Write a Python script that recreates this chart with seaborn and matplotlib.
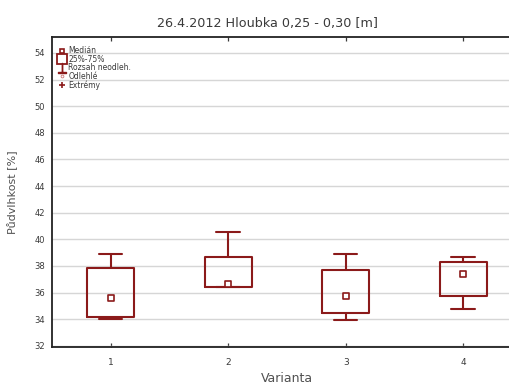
import matplotlib
matplotlib.use("Agg")
import matplotlib.pyplot as plt
from matplotlib.lines import Line2D
import seaborn as sns
import pandas as pd

# ---- data ----
variants = ["1", "2", "3", "4"]
whisker_low = [33.98, 36.4, 33.93, 34.79]
q1 = [34.16, 36.4, 34.49, 35.78]
median = [35.6, 36.68, 35.78, 37.36]
q3 = [37.86, 38.65, 37.7, 38.3]
whisker_high = [38.93, 40.55, 38.93, 38.65]

title = "26.4.2012 Hloubka 0,25 - 0,30 [m]"
xlabel = "Varianta"
ylabel = "Půdvlhkost [%]"
yticks = list(range(32, 56, 2))
legend_labels = ["Medián", "25%-75%", "Rozsah neodleh.", "Odlehlé", "Extrémy"]

# five-number sets per variant -> long table
rows = []
for i, v in enumerate(variants):
    for val in (whisker_low[i], q1[i], median[i], q3[i], whisker_high[i]):
        rows.append({"Varianta": v, "val": val})
df = pd.DataFrame(rows)
med_df = pd.DataFrame({"Varianta": variants, "val": median})

sns.set_theme(style="white")
plt.rcParams["font.family"] = ["DejaVu Sans"]

RED = "#8b1a1a"
TXT = "#3a3a3a"
fig = plt.figure(figsize=(5.10, 3.87), dpi=100)
ax = fig.add_axes([52 / 510, 1 - 346.5 / 387, 470 / 510, 309.5 / 387])

sns.boxplot(data=df, x="Varianta", y="val", order=variants, whis=(0, 100),
            width=0.4, fill=False, color=RED, linewidth=1.5, ax=ax,
            medianprops=dict(visible=False), showfliers=False)
sns.scatterplot(data=med_df, x="Varianta", y="val", marker="s", s=16,
                facecolor="white", edgecolor=RED, linewidth=1.2, ax=ax,
                zorder=5, legend=False)

ax.set_xlim(-0.5, 3.5)
ax.set_ylim(31.95, 55.2)
ax.set_yticks(yticks)
ax.set_yticklabels([str(t) for t in yticks])
ax.yaxis.grid(True, color="#d6d6d6", linewidth=1.0)
ax.set_axisbelow(True)

for side in ("left", "bottom", "top"):
    ax.spines[side].set_visible(True)
    ax.spines[side].set_color("#222222")
    ax.spines[side].set_linewidth(1.3)
ax.spines["right"].set_visible(False)

ax.tick_params(axis="y", direction="out", length=4, width=0.9, colors=TXT,
               labelsize=6, pad=1)
ax.tick_params(axis="x", direction="in", length=3, width=0.9, top=True,
               bottom=True, colors=TXT, labelsize=6.5, pad=8)
ax.set_xlabel(xlabel, fontsize=9, color="#505050", labelpad=4)
ax.set_ylabel(ylabel, fontsize=8, color="#505050", labelpad=12)

fig.text(267 / 510, 1 - 23 / 387, title, ha="center", va="center",
         fontsize=9.2, color=TXT)

handles = [
    Line2D([], [], linestyle="none", marker="s", markersize=3.5,
           markerfacecolor="white", markeredgecolor=RED, markeredgewidth=1.2),
    Line2D([], [], linestyle="none", marker="s", markersize=7,
           markerfacecolor="white", markeredgecolor=RED, markeredgewidth=1.3),
    Line2D([], [], linestyle="none", marker=r"$\perp$", markersize=7,
           color=RED),
    Line2D([], [], linestyle="none", marker="o", markersize=2,
           markerfacecolor="white", markeredgecolor="#cc7777", markeredgewidth=0.6),
    Line2D([], [], linestyle="none", marker="+", markersize=5,
           color=RED, markeredgewidth=1.2),
]
leg = ax.legend(handles, legend_labels, loc="upper left",
                bbox_to_anchor=(0.005, 0.985), frameon=False, fontsize=5.5,
                handlelength=0.8, handletextpad=0.45, labelspacing=-0.06,
                borderaxespad=0.2)
for t in leg.get_texts():
    t.set_color(TXT)

fig.savefig("out.png", dpi=100)
